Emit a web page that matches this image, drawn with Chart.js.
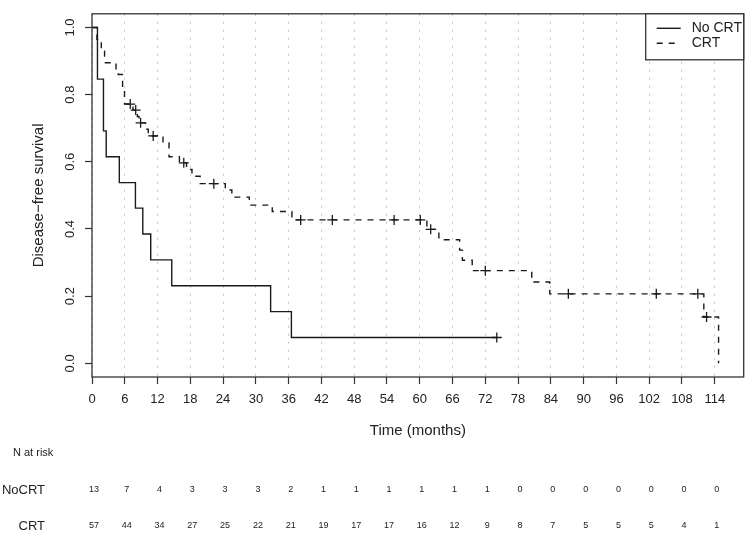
<!DOCTYPE html>
<html>
<head>
<meta charset="utf-8">
<script src="https://cdn.jsdelivr.net/npm/chart.js@4.4.1/dist/chart.umd.min.js"></script>
<style>
    html, body { margin: 0; padding: 0; background: #fff; }
    #caixa { width: 750px; height: 535px; }
</style>
</head>
<body>
<div id="caixa"><canvas id="grafico" width="750" height="535"></canvas></div>
<script>
// Kaplan-Meier: tempo (meses) e sobrevida logo após cada evento
const temposSemCRT = [0, 1.0, 2.1, 2.6, 5.0, 7.95, 9.3, 10.75, 14.6, 32.7, 36.5, 74.1];
const sobrevidaSemCRT = [1, 0.846, 0.692, 0.615, 0.538, 0.462, 0.385, 0.308, 0.231, 0.154, 0.077, 0.077];
const censurasSemCRT = [74.1];

const temposCRT = [0, 0.9, 1.7, 2.3, 4.4, 4.8, 5.6, 5.95, 7.5, 8.3, 8.6, 9.8, 10.3, 13.0, 14.1, 16.0,
    17.3, 18.3, 19.8, 24.4, 25.6, 28.8, 33.0, 36.6, 61.3, 63.5, 67.3, 67.8, 69.6, 80.5, 83.8, 112.0, 114.7];
const sobrevidaCRT = [1, 0.965, 0.93, 0.895, 0.877, 0.86, 0.825, 0.772, 0.754, 0.735, 0.716, 0.697, 0.677, 0.656, 0.615, 0.597,
    0.577, 0.557, 0.535, 0.516, 0.495, 0.471, 0.452, 0.427, 0.399, 0.368, 0.337, 0.307, 0.276, 0.242, 0.207, 0.138, 0];
const censurasCRT = [7.0, 8.0, 8.9, 11.2, 16.8, 22.3, 38.2, 44.0, 55.3, 60.1, 62.0, 72.0, 87.2, 103.3, 110.9, 112.5];

const ticksX = [0, 6, 12, 18, 24, 30, 36, 42, 48, 54, 60, 66, 72, 78, 84, 90, 96, 102, 108, 114];
const ticksY = [0, 0.2, 0.4, 0.6, 0.8, 1.0];

const riscoSemCRT = [13, 7, 4, 3, 3, 3, 2, 1, 1, 1, 1, 1, 1, 0, 0, 0, 0, 0, 0, 0];
const riscoCRT = [57, 44, 34, 27, 25, 22, 21, 19, 17, 17, 16, 12, 9, 8, 7, 5, 5, 5, 4, 1];

const fonte = '"Liberation Sans", Arial, sans-serif';
const preto = "#1a1a1a";

function pontos(tempos, sobrevida) {
    return tempos.map((t, i) => ({ x: t, y: sobrevida[i] }));
}

function sobrevidaEm(tempos, sobrevida, t) {
    let s = sobrevida[0];
    tempos.forEach((ti, i) => { if (ti <= t) s = sobrevida[i]; });
    return s;
}

function marcas(censuras, tempos, sobrevida) {
    return censuras.map(t => ({ x: t, y: sobrevidaEm(tempos, sobrevida, t) }));
}

const extras = {
    id: "extras",
    afterDraw(chart) {
        const { ctx, chartArea: a, scales: { x } } = chart;
        ctx.save();

        // moldura
        ctx.strokeStyle = "#333";
        ctx.lineWidth = 1.3;
        ctx.strokeRect(a.left, a.top, a.right - a.left, a.bottom - a.top);

        // legenda
        const lx = a.right - 98;
        ctx.fillStyle = "#fff";
        ctx.fillRect(lx, a.top, 98, 46);
        ctx.strokeRect(lx, a.top, 98, 46);
        const linhas = chart.data.datasets.filter(d => d.legenda);
        linhas.forEach((d, i) => {
            const y = a.top + 14.5 + i * 15;
            ctx.strokeStyle = d.borderColor;
            ctx.lineWidth = 1.4;
            ctx.setLineDash(d.borderDash || []);
            ctx.beginPath();
            ctx.moveTo(lx + 11, y);
            ctx.lineTo(lx + 35, y);
            ctx.stroke();
            ctx.setLineDash([]);
            ctx.fillStyle = "#222";
            ctx.font = "14px " + fonte;
            ctx.textBaseline = "middle";
            ctx.textAlign = "left";
            ctx.fillText(d.label, lx + 46, y);
        });

        // tabela de pacientes em risco
        ctx.fillStyle = "#222";
        ctx.textBaseline = "middle";
        ctx.textAlign = "left";
        ctx.font = "11px " + fonte;
        ctx.fillText("N at risk", 13, 453);
        ctx.font = "13px " + fonte;
        ctx.textAlign = "right";
        ctx.fillText("NoCRT", 45, 490);
        ctx.fillText("CRT", 45, 526);
        ctx.textAlign = "center";
        ctx.font = '9px "Liberation Sans Narrow", ' + fonte;
        ticksX.forEach((t, i) => {
            const px = x.getPixelForValue(t) + 2;
            ctx.fillText(String(riscoSemCRT[i]), px, 490);
            ctx.fillText(String(riscoCRT[i]), px, 526);
        });
        ctx.restore();
    }
};

new Chart(document.getElementById("grafico"), {
    type: "line",
    data: {
        datasets: [
            {
                label: "No CRT",
                legenda: true,
                data: pontos(temposSemCRT, sobrevidaSemCRT),
                stepped: "before",
                borderColor: preto,
                borderWidth: 1.4,
                pointRadius: 0,
                fill: false,
            },
            {
                label: "CRT",
                legenda: true,
                data: pontos(temposCRT, sobrevidaCRT),
                stepped: "before",
                borderColor: preto,
                borderWidth: 1.4,
                borderDash: [6, 6],
                pointRadius: 0,
                fill: false,
            },
            {
                label: "censura No CRT",
                data: marcas(censurasSemCRT, temposSemCRT, sobrevidaSemCRT),
                showLine: false,
                pointStyle: "cross",
                pointRadius: 5,
                borderColor: preto,
                borderWidth: 1.3,
            },
            {
                label: "censura CRT",
                data: marcas(censurasCRT, temposCRT, sobrevidaCRT),
                showLine: false,
                pointStyle: "cross",
                pointRadius: 5,
                borderColor: preto,
                borderWidth: 1.3,
            }
        ]
    },
    options: {
        responsive: false,
        animation: false,
        devicePixelRatio: 1,
        layout: { padding: { left: 0, top: 4, right: 4, bottom: 90 } },
        plugins: { legend: { display: false }, tooltip: { enabled: false } },
        scales: {
            x: {
                type: "linear",
                min: 0,
                max: 119.3,
                afterBuildTicks: s => { s.ticks = ticksX.map(v => ({ value: v })); },
                afterFit: s => { s.height = 68; },
                grid: { color: "#c4c4c4", lineWidth: 1, tickLength: 7, tickColor: "#333", tickWidth: 1.2 },
                border: { display: false, dash: [2, 6] },
                ticks: { color: "#222", font: { size: 13, family: fonte }, padding: 8, maxRotation: 0, autoSkip: false },
                title: { display: true, text: "Time (months)", color: "#222", font: { size: 15, family: fonte }, padding: { top: 0, bottom: 5 } }
            },
            y: {
                type: "linear",
                min: -0.0406,
                max: 1.0406,
                afterBuildTicks: s => { s.ticks = ticksY.map(v => ({ value: v })); },
                afterFit: s => { s.width = 92; },
                grid: { drawOnChartArea: false, tickLength: 7, tickColor: "#333", tickWidth: 1.2 },
                border: { display: false },
                ticks: {
                    color: "#222", font: { size: 13, family: fonte }, padding: 6,
                    minRotation: 90, maxRotation: 90, crossAlign: "center", autoSkip: false,
                    callback: v => v.toFixed(1)
                },
                title: { display: true, text: "Disease\u2212free survival", color: "#222", font: { size: 15, family: fonte }, padding: { top: 30, bottom: 0 } }
            }
        }
    },
    plugins: [extras]
});
</script>
</body>
</html>
